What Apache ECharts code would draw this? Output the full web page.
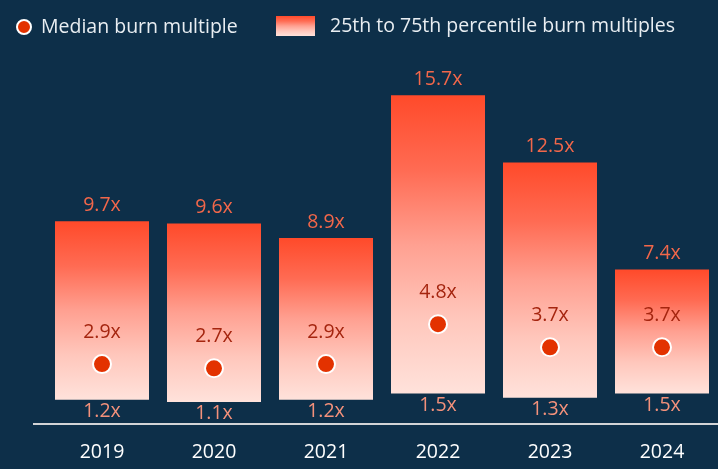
<!DOCTYPE html>
<html>
<head>
<meta charset="utf-8">
<script src="https://cdn.jsdelivr.net/npm/echarts@6/dist/echarts.min.js"></script>
<style>
html,body{margin:0;padding:0;background:#0d2f49;}
#c{width:718px;height:469px;}
</style>
</head>
<body>
<div id="c"></div>
<script>
var years = ['2019', '2020', '2021', '2022', '2023', '2024'];
var p25 = [1.2, 1.1, 1.2, 1.5, 1.3, 1.5];
var p75 = [9.7, 9.6, 8.9, 15.7, 12.5, 7.4];
var median = [2.9, 2.7, 2.9, 4.8, 3.7, 3.7];

var rangeName = '25th to 75th percentile burn multiples';
var medName = 'Median burn multiple';
var FONT = '"Open Sans"';

var grad = {
  type: 'linear', x: 0, y: 0, x2: 0, y2: 1,
  colorStops: [
    {offset: 0, color: '#ff4a2a'},
    {offset: 0.25, color: '#ff6b53'},
    {offset: 0.5, color: '#ffa091'},
    {offset: 0.75, color: '#ffc7bc'},
    {offset: 1, color: '#ffe2db'}
  ]
};

var chart = echarts.init(document.getElementById('c'));
chart.setOption({
  backgroundColor: '#0d2f49',
  animation: false,
  textStyle: {fontFamily: FONT},
  legend: [
    {
      data: [medName], left: 16, top: 17, padding: 0,
      itemWidth: 14, itemHeight: 14,
      textStyle: {color: '#e9eef2', fontSize: 19.5, fontFamily: FONT, padding: [0, 0, 0, 5]}
    },
    {
      data: [{name: rangeName, icon: 'rect'}], left: 276, top: 16, padding: 0,
      itemWidth: 39, itemHeight: 20,
      textStyle: {color: '#e9eef2', fontSize: 19.5, fontFamily: FONT, padding: [0, 0, 0, 10]}
    }
  ],
  grid: {left: 46, right: 0, top: 47, bottom: 44},
  xAxis: {
    type: 'category', data: years,
    axisLine: {show: false}, axisTick: {show: false},
    axisLabel: {color: '#ffffff', fontSize: 19.5, fontFamily: FONT, margin: 17}
  },
  yAxis: {type: 'value', min: 0, max: 18, show: false, splitLine: {show: false}},
  graphic: [{
    type: 'line', z: 10,
    shape: {x1: 33, y1: 424, x2: 718, y2: 424},
    style: {stroke: '#d2d4d6', lineWidth: 2}
  }],
  series: [
    {
      type: 'bar', stack: 'r', barWidth: 94, silent: true,
      data: p25,
      itemStyle: {color: 'rgba(0,0,0,0)'},
      label: {
        show: true, position: 'insideTop', distance: 2,
        color: '#f3917b', fontSize: 19.5, fontFamily: FONT,
        formatter: function (p) { return p25[p.dataIndex].toFixed(1) + 'x'; }
      }
    },
    {
      name: rangeName, type: 'bar', stack: 'r', barWidth: 94,
      data: p75.map(function (v, i) { return v - p25[i]; }),
      itemStyle: {color: grad},
      label: {
        show: true, position: 'top', distance: 6,
        color: '#f2674a', fontSize: 19.5, fontFamily: FONT,
        formatter: function (p) { return p75[p.dataIndex].toFixed(1) + 'x'; }
      }
    },
    {
      name: medName, type: 'scatter', z: 5,
      data: median, symbol: 'circle', symbolSize: 18,
      itemStyle: {color: '#e33200', opacity: 1, borderColor: '#ffffff', borderWidth: 2},
      label: {
        show: true, position: 'top', distance: 12,
        color: '#a5250f', fontSize: 19.5, fontFamily: FONT,
        formatter: function (p) { return median[p.dataIndex].toFixed(1) + 'x'; }
      }
    }
  ]
});
</script>
</body>
</html>
